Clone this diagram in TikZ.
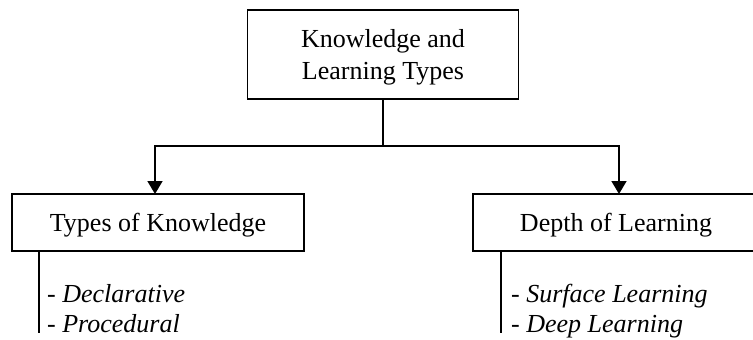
\documentclass[tikz,border=0pt]{standalone}
\usepackage{fontspec}
\setmainfont{Liberation Serif}
\usetikzlibrary{arrows.meta}
\tikzset{
  box/.style={draw, line width=1.7pt, inner sep=0pt, outer sep=0pt},
  lbl/.style={inner sep=0pt, align=center, font=\fontsize{26}{32}\selectfont},
  conn/.style={line width=1.7pt},
  arr/.style={conn, -{Triangle[length=13pt,width=15pt]}},
  items/.style={anchor=base west, inner sep=0pt, align=left,
    font=\fontsize{26}{30}\selectfont}
}
\begin{document}
\begin{tikzpicture}[x=1pt,y=-1pt]
\useasboundingbox (0,0) rectangle (753,340);
\node[box, minimum width=271pt, minimum height=89pt] (top) at (383,54.5) {};
\node[lbl, yshift=-3pt] (toptext) at (top.center) {Knowledge and\\Learning Types};
\node[box, minimum width=292pt, minimum height=57pt] (lbox) at (158,222.5) {};
\node[lbl, yshift=-3pt] (ltext) at (lbox.center) {Types of Knowledge};
\node[box, minimum width=286pt, minimum height=57pt] (rbox) at (616,222.5) {};
\node[lbl, yshift=-3pt] (rtext) at (rbox.center) {Depth of Learning};
\coordinate (jL) at (155,146);
\coordinate (jR) at (619,146);
\draw[arr] (top.south) |- (jL) -- (jL |- lbox.north);
\draw[arr] (top.south) |- (jR) -- (jR |- rbox.north);
\coordinate (lt) at (39,251);
\coordinate (lb) at (39,333);
\coordinate (rt) at (501,251);
\coordinate (rb) at (501,333);
\draw[conn] (lt) -- (lb);
\draw[conn] (rt) -- (rb);
\node[items] (litems) at (47,332) {- \textit{Declarative}\\- \textit{Procedural}};
\node[items] (ritems) at (511,332) {- \textit{Surface Learning}\\- \textit{Deep Learning}};
\end{tikzpicture}
\end{document}
